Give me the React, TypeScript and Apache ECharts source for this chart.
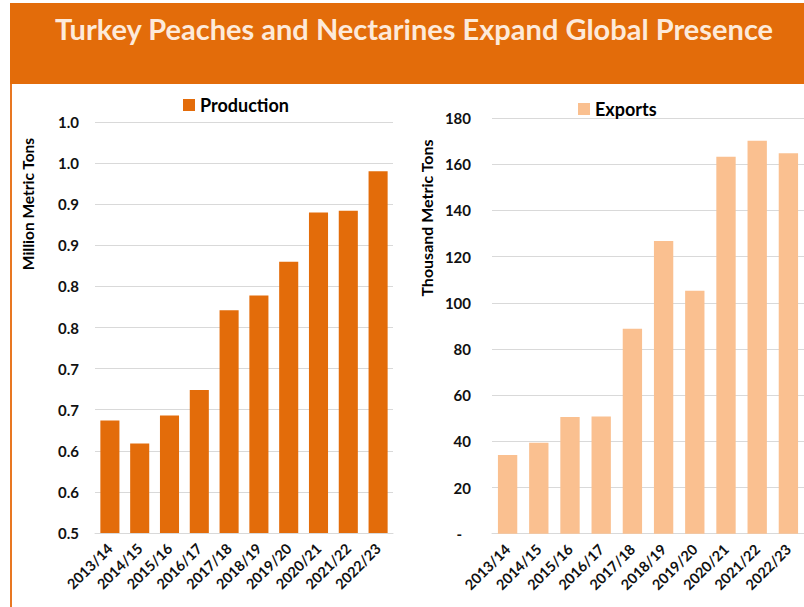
import React, { useEffect, useRef } from "react";
import * as echarts from "echarts";

const categories = ["2013/14", "2014/15", "2015/16", "2016/17", "2017/18", "2018/19", "2019/20", "2020/21", "2021/22", "2022/23"];
const production = [0.637, 0.609, 0.643, 0.674, 0.771, 0.789, 0.83, 0.89, 0.892, 0.94];
const exportsData = [34.1, 39.4, 50.5, 50.8, 88.7, 126.7, 105.2, 163.2, 170.1, 164.7];
const prodTickLabels = ["0.5", "0.6", "0.6", "0.7", "0.7", "0.8", "0.8", "0.9", "0.9", "1.0", "1.0"];
const expTickLabels = ["-", "20", "40", "60", "80", "100", "120", "140", "160", "180"];
const titleText = "Turkey Peaches and Nectarines Expand Global Presence";

const FONT = "Lato, 'Open Sans', sans-serif";
const ORANGE = "#E36C0A";
const PEACH = "#FAC090";

export default function App() {
  const ref = useRef<HTMLDivElement>(null);
  useEffect(() => {
    if (!ref.current) return;
    const chart = echarts.init(ref.current, undefined, { renderer: "svg" });
    const xLabel = {
      rotate: 45,
      color: "#111",
      fontFamily: FONT,
      fontWeight: "bold" as const,
      fontSize: 14.5,
      margin: 13,
    };
    chart.setOption({
      animation: false,
      backgroundColor: "#fff",
      textStyle: { fontFamily: FONT },
      graphic: [
        { type: "rect", shape: { x: 10, y: 3, width: 800, height: 81 }, style: { fill: ORANGE } },
        { type: "rect", shape: { x: 10, y: 84, width: 2, height: 530 }, style: { fill: "#E87722" } },
        {
          type: "text",
          x: 414,
          y: 28,
          style: {
            text: titleText,
            fill: "#FDEADA",
            font: `bold 29px ${FONT}`,
            textAlign: "center",
            textVerticalAlign: "middle",
          },
        },
        {
          type: "text",
          x: 28,
          y: 204,
          rotation: Math.PI / 2,
          style: {
            text: "Million Metric Tons",
            fill: "#000",
            font: `bold 15.5px ${FONT}`,
            textAlign: "center",
            textVerticalAlign: "middle",
          },
        },
        {
          type: "text",
          x: 426,
          y: 218,
          rotation: Math.PI / 2,
          style: {
            text: "Thousand Metric Tons",
            fill: "#000",
            font: `bold 16px ${FONT}`,
            textAlign: "center",
            textVerticalAlign: "middle",
          },
        },
      ],
      legend: [
        {
          data: ["Production"],
          left: 178,
          top: 91,
          icon: "rect",
          itemWidth: 12,
          itemHeight: 12,
          textStyle: { fontFamily: FONT, fontWeight: "bold", fontSize: 18, color: "#000" },
        },
        {
          data: ["Exports"],
          left: 573,
          top: 95,
          icon: "rect",
          itemWidth: 12,
          itemHeight: 12,
          textStyle: { fontFamily: FONT, fontWeight: "bold", fontSize: 18, color: "#000" },
        },
      ],
      grid: [
        { left: 95, top: 122, width: 298, height: 411, containLabel: false },
        { left: 492, top: 118, width: 320, height: 415.7, containLabel: false },
      ],
      xAxis: [
        {
          type: "category",
          gridIndex: 0,
          data: categories,
          axisTick: { show: false },
          axisLine: { lineStyle: { color: "#d9d9d9" } },
          axisLabel: xLabel,
        },
        {
          type: "category",
          gridIndex: 1,
          data: categories,
          axisTick: { show: false },
          axisLine: { lineStyle: { color: "#d9d9d9" } },
          axisLabel: xLabel,
        },
      ],
      yAxis: [
        {
          type: "value",
          gridIndex: 0,
          min: 0.5,
          max: 1.0,
          interval: 0.05,
          axisLine: { show: false },
          axisTick: { show: false },
          splitLine: { lineStyle: { color: "#d9d9d9" } },
          axisLabel: {
            margin: 16,
            color: "#111",
            fontFamily: FONT,
            fontWeight: "bold",
            fontSize: 15,
            formatter: (v: number) => prodTickLabels[Math.round((v - 0.5) / 0.05)] ?? "",
          },
        },
        {
          type: "value",
          gridIndex: 1,
          min: 0,
          max: 180,
          interval: 20,
          axisLine: { show: false },
          axisTick: { show: false },
          splitLine: { lineStyle: { color: "#d9d9d9" } },
          axisLabel: {
            margin: 21,
            color: "#111",
            fontFamily: FONT,
            fontWeight: "bold",
            fontSize: 15,
            formatter: (v: number) => {
              const i = Math.round(v / 20);
              return i === 0 ? "{d|" + expTickLabels[0] + "}" : expTickLabels[i] ?? "";
            },
            rich: { d: { padding: [0, 9, 0, 0], fontFamily: FONT, fontWeight: "bold", fontSize: 15, color: "#111" } },
          },
        },
      ],
      series: [
        {
          name: "Production",
          type: "bar",
          xAxisIndex: 0,
          yAxisIndex: 0,
          data: production,
          barCategoryGap: "36%",
          itemStyle: { color: ORANGE },
        },
        {
          name: "Exports",
          type: "bar",
          xAxisIndex: 1,
          yAxisIndex: 1,
          data: exportsData,
          barCategoryGap: "38%",
          itemStyle: { color: PEACH },
        },
      ],
    });
    return () => chart.dispose();
  }, []);
  return (
    <div
      ref={ref}
      style={{ position: "absolute", left: 0, top: 0, width: 804, height: 607 }}
    />
  );
}
